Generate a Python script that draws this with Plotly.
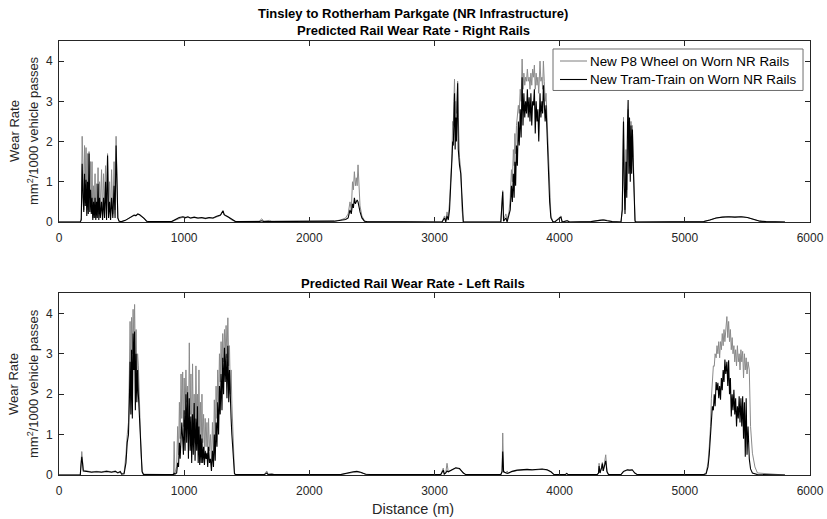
import plotly.graph_objects as go

# ---------------- Right rails (upper panel) ----------------
right_dist = [
    0, 170,
    178, 185, 192, 198, 204, 210, 216, 222, 228, 234,
    240, 246, 252, 258, 264, 270, 276, 282, 288, 294,
    300, 306, 312, 318, 324, 330, 340, 348, 356, 364,
    372, 380, 388, 396, 404, 412, 420, 430, 440, 448,
    456, 464, 470, 480,
    500, 530, 560, 580, 600, 615, 630, 645, 660, 680, 700, 720,
    900, 930, 960, 990, 1010, 1030, 1050, 1080, 1110, 1140, 1170, 1200,
    1230, 1260, 1290, 1310, 1320, 1350, 1380, 1410,
    1600, 1620, 1635, 1680, 1700,
    2200, 2250, 2290, 2310, 2325, 2335, 2345, 2352, 2360, 2368, 2375, 2382,
    2389, 2396, 2405, 2420, 2440, 2460,
    3060, 3080, 3090, 3100, 3110, 3120, 3130, 3140, 3145, 3150, 3155, 3160,
    3165, 3170, 3175, 3180, 3185, 3190, 3195, 3200, 3210, 3220, 3230,
    3530, 3545, 3552, 3570, 3580, 3595, 3605, 3615, 3622, 3630,
    3636, 3642, 3648, 3655, 3662, 3670, 3677, 3685, 3692, 3700,
    3707, 3714, 3721, 3728, 3735, 3742, 3749, 3756, 3763, 3770,
    3777, 3784, 3791, 3798, 3805, 3812, 3819, 3826, 3833, 3843,
    3850, 3858, 3864, 3870, 3877, 3884, 3891, 3898, 3905, 3912,
    3920, 3930, 3945, 3960, 4010, 4020, 4060, 4080,
    4250, 4320, 4350, 4380, 4420,
    4490, 4500, 4505, 4510, 4516, 4522, 4530, 4536, 4542, 4547,
    4553, 4558, 4564, 4570, 4575, 4581, 4588, 4595, 4602, 4610,
    5150, 5200, 5250, 5300, 5350, 5400, 5450, 5500, 5550, 5600, 5650, 5800,
]
right_p8 = [
    0, 0,
    0.10, 2.13, 1.30, 0.30, 1.90, 1.00, 1.85, 0.50, 1.70, 0.30,
    1.75, 0.60, 1.50, 0.30, 1.50, 0.10, 0.90, 0.40, 1.20, 0.10,
    0.95, 0.30, 1.35, 0.20, 1.00, 0.30, 1.30, 0.10, 1.20, 0.40,
    1.40, 0.20, 1.70, 0.30, 1.00, 0.10, 1.30, 0.20, 1.50, 0.30,
    2.13, 1.00, 0.10, 0.02,
    0.01, 0.04, 0.10, 0.13, 0.16, 0.15, 0.19, 0.17, 0.14, 0.08, 0.02, 0.01,
    0.01, 0.05, 0.10, 0.12, 0.10, 0.12, 0.09, 0.11, 0.09, 0.10, 0.08, 0.10,
    0.09, 0.13, 0.16, 0.27, 0.17, 0.12, 0.05, 0.01,
    0.02, 0.08, 0.02, 0.04, 0.02,
    0.02, 0.05, 0.10, 0.20, 0.50, 0.30, 1.00, 0.80, 1.25, 0.90, 1.10, 0.90,
    1.42, 0.80, 0.40, 0.15, 0.03, 0.01,
    0, 0.15, 0.05, 0.25, 0.10, 0.50, 1.00, 1.70, 2.50, 2.40, 3.00, 3.55,
    2.50, 3.00, 2.70, 3.30, 3.50, 2.60, 1.90, 1.60, 1.30, 0.30, 0,
    0, 0.78, 0.05, 0.20, 0.05, 0.25, 0.60, 1.30, 1.00, 1.80,
    1.40, 2.20, 1.70, 2.40, 2.60, 2.90, 2.70, 3.30, 3.00, 4.05,
    3.30, 3.70, 3.40, 3.60, 3.50, 3.80, 3.50, 3.60, 3.30, 3.70,
    3.40, 3.80, 3.60, 3.90, 3.30, 3.70, 3.40, 3.60, 3.20, 4.00,
    3.50, 3.60, 3.30, 4.00, 3.50, 3.00, 3.20, 2.60, 2.00, 1.30,
    0.60, 0.15, 0.02, 0, 0.15, 0, 0.04, 0,
    0.01, 0.05, 0.06, 0.04, 0.01,
    0, 0.30, 1.50, 2.60, 1.00, 0.30, 1.80, 0.80, 2.20, 2.80,
    1.80, 2.20, 1.40, 2.50, 1.50, 2.40, 1.60, 0.60, 0.05, 0,
    0.01, 0.05, 0.10, 0.12, 0.13, 0.12, 0.13, 0.11, 0.07, 0.02, 0.01, 0,
]
right_tram = [
    0, 0,
    0.05, 1.45, 0.60, 0.25, 1.20, 0.40, 1.05, 0.15, 1.00, 0.20,
    1.70, 0.25, 0.80, 0.20, 0.60, 0.05, 0.50, 0.10, 0.60, 0.05,
    0.50, 0.10, 0.95, 0.05, 0.60, 0.10, 0.50, 0.05, 0.60, 0.10,
    1.00, 0.05, 1.65, 0.10, 0.50, 0.05, 0.60, 0.10, 0.90, 0.10,
    1.90, 0.90, 0.10, 0.02,
    0.01, 0.04, 0.10, 0.14, 0.17, 0.16, 0.20, 0.18, 0.15, 0.09, 0.02, 0.01,
    0.01, 0.06, 0.11, 0.13, 0.11, 0.13, 0.10, 0.12, 0.10, 0.11, 0.09, 0.11,
    0.10, 0.14, 0.17, 0.28, 0.18, 0.13, 0.06, 0.01,
    0.01, 0.03, 0.01, 0.02, 0.01,
    0.02, 0.04, 0.06, 0.10, 0.30, 0.20, 0.45, 0.35, 0.60, 0.45, 0.50, 0.55,
    0.50, 0.35, 0.25, 0.10, 0.02, 0.01,
    0, 0.10, 0, 0.15, 0.05, 0.30, 0.80, 1.60, 2.00, 1.90, 2.50, 3.20,
    1.80, 2.60, 2.00, 3.00, 3.45, 1.80, 1.50, 1.40, 1.20, 0.40, 0,
    0, 0.75, 0.02, 0.10, 0, 0.15, 0.30, 0.90, 0.50, 1.20,
    0.60, 1.50, 0.90, 1.90, 1.40, 2.50, 1.90, 2.80, 2.10, 3.60,
    2.40, 3.20, 2.60, 3.00, 2.70, 3.30, 2.60, 3.10, 2.50, 3.20,
    2.40, 3.00, 2.90, 3.30, 2.20, 3.00, 2.50, 2.80, 2.00, 3.20,
    2.60, 3.00, 2.70, 3.40, 2.80, 2.50, 2.90, 2.20, 1.80, 1.20,
    0.50, 0.10, 0.01, 0, 0.12, 0, 0.03, 0,
    0.01, 0.04, 0.05, 0.03, 0.01,
    0, 0.30, 1.40, 2.50, 0.90, 0.20, 1.50, 0.60, 2.40, 3.03,
    1.20, 2.60, 1.00, 2.40, 1.20, 2.30, 1.40, 0.30, 0.02, 0,
    0.01, 0.05, 0.10, 0.12, 0.13, 0.12, 0.13, 0.11, 0.07, 0.02, 0.01, 0,
]

# ---------------- Left rails (lower panel) ----------------
left_dist = [
    0, 170, 176, 182, 188, 194, 220, 260, 300, 340, 380, 420, 450, 470, 490, 500,
    520, 535, 545, 555, 562, 568, 574, 580, 586, 592,
    598, 604, 610, 616, 622, 628, 634, 640, 648, 656, 664, 675,
    900, 915, 920, 926, 940, 948, 955, 962, 968, 975,
    981, 988, 994, 1000, 1007, 1014, 1020, 1027, 1034, 1041,
    1048, 1054, 1060, 1067, 1073, 1080, 1087, 1094, 1100, 1106,
    1112, 1118, 1124, 1130, 1136, 1142, 1148, 1155, 1162, 1168,
    1175, 1182, 1188, 1195, 1202, 1210, 1218, 1226, 1234, 1241,
    1248, 1255, 1262, 1268, 1275, 1282, 1288, 1295, 1302, 1308,
    1315, 1322, 1328, 1335, 1342, 1349, 1356, 1362, 1369, 1375,
    1381, 1388, 1395, 1402, 1410,
    1640, 1660, 1670, 1700, 1720,
    2250, 2300, 2350, 2380, 2410, 2450, 2500,
    3050, 3070, 3078, 3090, 3100, 3110, 3140, 3170, 3200, 3230, 3250,
    3530, 3540, 3545, 3552, 3570, 3581, 3590, 3620, 3660, 3700, 3740,
    3780, 3820, 3860, 3900, 3930, 3955, 3980,
    4045, 4056, 4068,
    4300, 4310, 4315, 4322, 4335, 4341, 4348, 4360, 4368, 4378, 4390,
    4490, 4510, 4540, 4560, 4580, 4600, 4620,
    5150, 5170, 5185, 5195, 5205, 5212, 5220, 5228, 5235, 5242,
    5250, 5257, 5264, 5271, 5278, 5285, 5292, 5299, 5306, 5313,
    5320, 5327, 5336, 5343, 5350, 5357, 5364, 5371, 5378, 5385,
    5392, 5399, 5406, 5413, 5420, 5427, 5434, 5441, 5448, 5455,
    5462, 5469, 5476, 5483, 5490, 5497, 5505, 5515, 5525, 5540,
    5560, 5580, 5800,
]
left_p8 = [
    0, 0, 0.30, 0.58, 0.35, 0.12, 0.10, 0.08, 0.09, 0.08, 0.10, 0.08, 0.10, 0.06, 0.10, 0.03,
    0.05, 0.50, 1.00, 1.30, 2.50, 3.80, 2.40, 3.90, 3.00, 4.10,
    3.30, 4.22, 2.80, 3.60, 2.40, 3.00, 2.70, 2.00, 1.20, 0.50, 0.10, 0.02,
    0.01, 0.02, 0.83, 0.05, 0.20, 1.20, 0.50, 1.80, 0.90, 2.50,
    1.40, 2.55, 1.20, 2.40, 1.50, 2.60, 1.80, 2.20, 1.00, 3.27,
    1.50, 2.50, 0.90, 2.75, 1.20, 2.00, 0.80, 2.70, 1.40, 2.00,
    0.90, 2.60, 0.90, 1.80, 0.70, 2.00, 0.80, 1.50, 0.60, 1.40,
    0.70, 1.30, 0.50, 1.40, 0.60, 1.00, 0.30, 1.30, 0.50, 1.86,
    0.90, 2.20, 1.40, 2.60, 1.80, 3.00, 2.30, 3.30, 2.50, 3.50,
    2.80, 3.60, 3.00, 3.70, 2.90, 3.89, 2.70, 3.20, 2.00, 2.60,
    1.78, 1.20, 0.40, 0.05, 0.01,
    0.01, 0.10, 0.02, 0.03, 0.01,
    0.01, 0.04, 0.07, 0.08, 0.06, 0.02, 0.01,
    0.01, 0.17, 0.03, 0.05, 0.29, 0.08, 0.12, 0.17, 0.15, 0.05, 0.01,
    0.01, 0.10, 1.04, 0.10, 0.05, 0.10, 0.04, 0.08, 0.11, 0.12, 0.13,
    0.12, 0.13, 0.14, 0.12, 0.08, 0.01, 0.01,
    0.01, 0.04, 0.01,
    0.01, 0.05, 0.29, 0.05, 0.20, 0.31, 0.10, 0.30, 0.50, 0.10, 0.01,
    0.01, 0.08, 0.12, 0.11, 0.12, 0.05, 0.01,
    0.01, 0.05, 0.30, 0.70, 1.20, 1.90, 2.30, 2.70, 2.69, 3.00,
    2.90, 3.20, 3.00, 3.30, 2.90, 3.30, 3.10, 3.50, 3.20, 3.60,
    3.30, 3.70, 3.92, 3.40, 3.80, 3.30, 3.60, 3.10, 3.40, 3.00,
    3.20, 2.80, 3.10, 2.70, 3.20, 2.80, 3.00, 2.60, 3.10, 2.80,
    3.06, 2.40, 3.00, 2.60, 2.90, 2.50, 2.80, 2.60, 1.20, 0.54,
    0.20, 0.05, 0,
]
left_tram = [
    0, 0, 0.25, 0.45, 0.30, 0.10, 0.09, 0.07, 0.08, 0.07, 0.09, 0.07, 0.09, 0.05, 0.08, 0.02,
    0.03, 0.30, 0.80, 1.00, 1.80, 2.80, 1.50, 3.10, 1.40, 3.50,
    2.60, 3.55, 1.60, 3.00, 1.80, 2.60, 2.00, 1.60, 1.00, 0.40, 0.08, 0.01,
    0.01, 0.01, 0.05, 0.02, 0.05, 0.30, 0.20, 0.80, 0.40, 1.20,
    1.30, 0.90, 0.50, 1.60, 0.60, 2.00, 0.80, 2.05, 0.40, 1.90,
    0.60, 1.45, 0.30, 1.50, 0.50, 1.78, 0.35, 1.40, 0.60, 1.70,
    0.30, 1.20, 0.25, 1.00, 0.30, 0.90, 0.30, 0.70, 0.25, 0.60,
    0.40, 0.55, 0.20, 0.70, 0.30, 0.40, 0.10, 0.60, 0.20, 1.00,
    0.35, 1.30, 0.70, 1.80, 1.00, 2.20, 1.50, 2.50, 1.60, 2.90,
    2.00, 3.15, 2.30, 3.00, 1.90, 3.20, 1.80, 2.60, 1.50, 1.40,
    1.00, 0.60, 0.20, 0.03, 0.01,
    0.01, 0.05, 0.01, 0.02, 0.01,
    0.01, 0.05, 0.08, 0.09, 0.07, 0.02, 0.01,
    0.01, 0.12, 0.02, 0.05, 0.10, 0.08, 0.13, 0.18, 0.16, 0.05, 0.01,
    0.01, 0.08, 0.58, 0.08, 0.05, 0.04, 0.05, 0.09, 0.12, 0.13, 0.14,
    0.13, 0.14, 0.15, 0.13, 0.08, 0.01, 0.01,
    0.01, 0.04, 0.01,
    0.01, 0.05, 0.22, 0.05, 0.18, 0.28, 0.10, 0.25, 0.35, 0.08, 0.01,
    0.01, 0.09, 0.13, 0.12, 0.13, 0.05, 0.01,
    0.01, 0.03, 0.20, 0.50, 1.00, 1.30, 1.70, 1.60, 2.00, 1.70,
    2.30, 2.10, 2.28, 1.90, 2.20, 1.86, 2.40, 2.10, 2.60, 2.30,
    2.86, 2.50, 2.80, 2.20, 2.84, 2.00, 2.40, 1.45, 2.00, 1.60,
    2.11, 1.50, 1.90, 1.20, 1.70, 1.40, 1.95, 1.30, 1.90, 1.20,
    1.95, 0.90, 1.80, 0.45, 1.90, 0.50, 1.20, 0.40, 0.15, 0.05,
    0.02, 0.01, 0,
]

assert len(right_dist) == len(right_p8) == len(right_tram)
assert len(left_dist) == len(left_p8) == len(left_tram)

series_names = ["New P8 Wheel on Worn NR Rails", "New Tram-Train on Worn NR Rails"]
x_ticks = [0, 1000, 2000, 3000, 4000, 5000, 6000]
y_ticks = [0, 1, 2, 3, 4]

GREY = "#8a8a8a"
INK = "#262626"
FONT = "Liberation Sans, Arial, sans-serif"
series_colors = [GREY, "#000000"]

fig = go.Figure()
panels = [
    ("x", "y", right_dist, right_p8, right_tram),
    ("x2", "y2", left_dist, left_p8, left_tram),
]
for xa, ya, d, p8, tram in panels:
    fig.add_trace(go.Scatter(x=d, y=p8, mode="lines", name=series_names[0],
                             line=dict(color=series_colors[0], width=1),
                             xaxis=xa, yaxis=ya, showlegend=False))
    fig.add_trace(go.Scatter(x=d, y=tram, mode="lines", name=series_names[1],
                             line=dict(color=series_colors[1], width=1.1),
                             xaxis=xa, yaxis=ya, showlegend=False))

axis_common = dict(
    showgrid=False, zeroline=False, showline=True, linecolor=INK, linewidth=1,
    mirror="ticks", ticks="inside", ticklen=5, tickcolor=INK, tickwidth=1,
    tickfont=dict(family=FONT, size=12, color=INK), automargin=False,
)
top_dom = [0.583, 1.0]
bot_dom = [0.0, 0.419]
fig.update_layout(
    xaxis=dict(domain=[0, 1], range=[0, 6000], tickvals=x_ticks, anchor="y",
               ticklabelstandoff=5, **axis_common),
    yaxis=dict(domain=top_dom, range=[0, 4.5], tickvals=y_ticks, anchor="x",
               ticklabelstandoff=3, **axis_common),
    xaxis2=dict(domain=[0, 1], range=[0, 6000], tickvals=x_ticks, anchor="y2",
                ticklabelstandoff=5, **axis_common),
    yaxis2=dict(domain=bot_dom, range=[0, 4.5], tickvals=y_ticks, anchor="x2",
                ticklabelstandoff=3, **axis_common),
)

ann = []
title_x = 0.4714
for text, y in [("Tinsley to Rotherham Parkgate (NR Infrastructure)", 1.064),
                ("Predicted Rail Wear Rate - Right Rails", 1.024),
                ("Predicted Rail Wear Rate - Left Rails", 0.441)]:
    ann.append(dict(text=f"<b>{text}</b>", x=title_x, y=y, xref="paper", yref="paper",
                    xanchor="center", yanchor="middle", showarrow=False,
                    font=dict(family=FONT, size=13, color="#000000")))
for yc in (0.7926, 0.2097):
    ann.append(dict(text="Wear Rate", x=-0.0599, y=yc, xref="paper", yref="paper",
                    textangle=-90, xanchor="center", yanchor="middle", showarrow=False,
                    font=dict(family=FONT, size=13, color=INK)))
    ann.append(dict(text="mm<sup>2</sup>/1000 vehicle passes", x=-0.0346, y=yc,
                    xref="paper", yref="paper", textangle=-90, xanchor="center",
                    yanchor="middle", showarrow=False,
                    font=dict(family=FONT, size=13, color=INK)))
ann.append(dict(text="Distance (m)", x=title_x, y=-0.078, xref="paper", yref="paper",
                xanchor="center", yanchor="middle", showarrow=False,
                font=dict(family=FONT, size=14.5, color=INK)))

# Legend box for the upper panel, drawn in paper coordinates
shapes = [dict(type="rect", xref="paper", yref="paper",
               x0=0.6578, x1=0.9907, y0=0.8860, y1=0.9816,
               line=dict(color="#6e6e6e", width=1), fillcolor="white", layer="above")]
for name, color, yrow in zip(series_names, series_colors, (0.9539, 0.9113)):
    shapes.append(dict(type="line", xref="paper", yref="paper",
                       x0=0.6671, x1=0.7031, y0=yrow, y1=yrow,
                       line=dict(color=color, width=1.1), layer="above"))
    ann.append(dict(text=name, x=0.7050, y=yrow, xref="paper", yref="paper",
                    xanchor="left", yanchor="middle", showarrow=False,
                    font=dict(family=FONT, size=13.4, color="#000000")))

fig.update_layout(
    width=827, height=519,
    margin=dict(l=59, r=17, t=41, b=44, autoexpand=False),
    paper_bgcolor="white", plot_bgcolor="white",
    annotations=ann, shapes=shapes,
    showlegend=False,
)

fig.write_html("out.html")
